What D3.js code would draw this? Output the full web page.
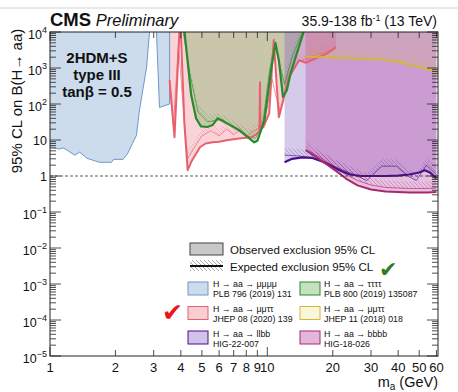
<!DOCTYPE html>
<html>
<head>
<meta charset="utf-8">
<script src="https://cdn.jsdelivr.net/npm/d3@7"></script>
<style>
    body { margin: 0; background: #fff; }
    text { font-family: "Liberation Sans", Arial, sans-serif; }
</style>
</head>
<body>
<div id="chart"></div>
<script>
// H -> aa -> mumumumu (PLB 796 (2019) 131), two pieces around the J/psi gap
var mmmmMassA = [1, 1.03, 1.1, 1.15, 1.2, 1.3, 1.37, 1.48, 1.69, 1.92, 1.96, 2.17, 2.28, 2.4, 2.5, 2.58, 2.78, 2.87];
var mmmmObsA = [6.5, 6.3, 5.6, 6.0, 5.2, 3.8, 4.6, 3.1, 2.4, 2.4, 2.9, 2.9, 4.3, 8.1, 13.6, 68, 1000, 10000];
var mmmmMassB = [3.09, 3.19, 3.55, 3.55];
var mmmmObsB = [10000, 80, 100, 10000];

// H -> aa -> mumutautau (JHEP 08 (2020) 139)
var mmttMass = [3.55, 3.74, 3.94, 4.0, 4.15, 4.3, 4.5, 4.9, 5.2, 5.6, 6.0, 6.5, 7.0, 7.4, 8.0, 8.5, 9.0, 9.2, 9.25, 9.3, 9.6, 10.2, 10.7, 11.3, 12.6, 14, 15, 17.3, 19, 20.7];
var mmttObs = [460, 12, 10000, 10000, 30, 1.45, 2.7, 6.3, 8, 8.7, 9, 9.8, 10.5, 11, 11.5, 12, 15, 18, 400, 20, 23, 55, 6000, 43, 560, 1650, 1400, 2000, 2600, 3800];
var mmttExpMass = [3.55, 3.7, 3.9, 4.05, 4.3, 4.6, 5.0, 5.5, 6.0, 6.5, 7.0, 7.5, 8.0, 8.5, 9.0, 9.5, 10.0, 10.5, 11.0, 11.5, 12.5, 14, 16, 18, 20.7];
var mmttExp = [300, 25, 5000, 200, 3, 6, 13, 18, 13, 20, 14, 19, 12, 17, 20, 30, 80, 500, 150, 60, 700, 1500, 2100, 2600, 3500];

// H -> aa -> tautautautau (PLB 800 (2019) 135087)
var ttttMass = [4.16, 4.46, 4.7, 4.95, 5.3, 5.6, 5.9, 6.3, 7.4, 8.7, 9.0, 9.7, 10.4, 10.9, 11.3, 11.8, 12.3, 12.8, 13.5, 14.7];
var ttttObs = [10000, 180, 40, 24, 23, 26, 40, 33, 19, 8.6, 9.5, 35, 870, 5000, 1650, 157, 240, 710, 2000, 10000];
var ttttExpMass = [4.1, 4.4, 4.8, 5.3, 6.0, 7.0, 8.0, 8.8, 9.5, 10.2, 10.8, 11.4, 12.0, 13.0, 14.5];
var ttttExp = [10000, 700, 60, 32, 36, 22, 13, 11, 25, 700, 5000, 1200, 350, 2000, 10000];

// H -> aa -> mumutautau (JHEP 11 (2018) 018)
var mmtt18Mass = [15, 16, 17, 18, 20, 22, 24, 26, 28, 30, 33, 36, 40, 44, 48, 52, 56, 61];
var mmtt18Obs = [2000, 2100, 2000, 2050, 1900, 1950, 1850, 1850, 1800, 1750, 1700, 1600, 1450, 1250, 1100, 1000, 850, 700];
var mmtt18Exp = [2200, 2000, 2300, 2000, 2100, 1800, 2000, 1700, 1900, 1650, 1800, 1500, 1550, 1300, 1150, 1050, 900, 720];

// H -> aa -> llbb (HIG-22-007)
var llbbMass = [12, 13, 14.5, 16, 18, 20, 22, 24, 27, 30, 35, 40, 45, 50, 53, 56, 60];
var llbbObs = [2.4, 3.0, 3.3, 3.2, 2.5, 1.8, 1.35, 1.1, 1.0, 1.0, 1.0, 1.02, 1.1, 1.25, 1.45, 1.25, 0.86];
var llbbExpMass = [12, 14, 17, 21.3, 25, 28.7, 33.6, 39.3, 44.5, 48.5, 53.9, 60];
var llbbExp = [3.8, 3.6, 3.0, 1.64, 1.1, 0.75, 1.87, 1.87, 0.98, 0.75, 1.99, 1.1];

// H -> aa -> bbbb (HIG-18-026)
var bbbbMass = [15, 17, 19, 21, 23, 26, 30, 35, 45, 55, 60];
var bbbbObs = [5.2, 3.2, 2.0, 1.3, 0.85, 0.55, 0.42, 0.37, 0.35, 0.35, 0.36];
var bbbbExp = [5.6, 3.6, 2.4, 1.6, 1.1, 0.75, 0.56, 0.48, 0.45, 0.45, 0.46];

// axis ticks
var xTickValues = [1, 2, 3, 4, 5, 6, 7, 8, 9, 10, 20, 30, 40, 50, 60];
var yExponents = [-5, -4, -3, -2, -1, 0, 1, 2, 3, 4];

// legend text
var legendTop = ["Observed exclusion 95% CL", "Expected exclusion 95% CL"];
var legendDecay = ["H \u2192 aa \u2192 \u03bc\u03bc\u03bc\u03bc", "H \u2192 aa \u2192 \u03c4\u03c4\u03c4\u03c4",
    "H \u2192 aa \u2192 \u03bc\u03bc\u03c4\u03c4", "H \u2192 aa \u2192 \u03bc\u03bc\u03c4\u03c4",
    "H \u2192 aa \u2192 llbb", "H \u2192 aa \u2192 bbbb"];
var legendRef = ["PLB 796 (2019) 131", "PLB 800 (2019) 135087", "JHEP 08 (2020) 139",
    "JHEP 11 (2018) 018", "HIG-22-007", "HIG-18-026"];

function zip(ms, vs) {
    return ms.map(function (m, i) { return {m: m, v: vs[i]}; });
}

function drawLimits(divName) {

    var W = 458, H = 392;
    var left = 50, right = 438, top = 32, bottom = 356;

    var x = d3.scaleLog().domain([1, 61]).range([left, right]);
    var y = d3.scaleLog().domain([1e-5, 1e4]).range([bottom, top]).clamp(true);

    var svg = d3.select('#' + divName)
        .append('svg')
        .attr('width', W)
        .attr('height', H);

    var defs = svg.append('defs');
    defs.append('clipPath').attr('id', 'plotclip')
        .append('rect')
        .attr('x', left).attr('y', top)
        .attr('width', right - left).attr('height', bottom - top);

    function hatch(id, color, op) {
        var p = defs.append('pattern')
            .attr('id', id)
            .attr('patternUnits', 'userSpaceOnUse')
            .attr('width', 4).attr('height', 4);
        p.append('path')
            .attr('d', 'M-1,-1 L5,5 M3,-1 L5,1 M-1,3 L1,5')
            .attr('stroke', color)
            .attr('stroke-width', 0.6)
            .attr('stroke-opacity', op);
    }

    var analyses = [
        {obs: zip(mmmmMassA, mmmmObsA), exp: null, fill: '#cddcec', op: 1, line: '#6f98c8', lw: 1, hatch: null},
        {obs: zip(mmmmMassB, mmmmObsB), exp: null, fill: '#cddcec', op: 1, line: '#6f98c8', lw: 1, hatch: null},
        {obs: zip(mmttMass, mmttObs), exp: zip(mmttExpMass, mmttExp), fill: '#f06e82', op: 0.3, line: '#e8606e', lw: 2, hatch: '#e8606e'},
        {obs: zip(ttttMass, ttttObs), exp: zip(ttttExpMass, ttttExp), fill: '#5aaa46', op: 0.3, line: '#2a8a2e', lw: 2.2, hatch: '#3a9a3a'},
        {obs: zip(llbbMass, llbbObs), exp: zip(llbbExpMass, llbbExp), fill: '#7850be', op: 0.3, line: '#4b0f8c', lw: 2.2, hatch: '#5a2a9a'},
        {obs: zip(bbbbMass, bbbbObs), exp: zip(bbbbMass, bbbbExp), fill: '#b43ca0', op: 0.32, line: '#a8286e', lw: 2, hatch: '#a8286e'},
        {obs: zip(mmtt18Mass, mmtt18Obs), exp: zip(mmtt18Mass, mmtt18Exp), fill: '#e6d250', op: 0.15, line: '#d4b830', lw: 1.5, hatch: '#d4b830'}
    ];

    analyses.forEach(function (a, i) {
        if (a.hatch) hatch('h' + i, a.hatch, 0.5);
    });
    hatch('hgray', '#444', 0.8);

    var plot = svg.append('g').attr('clip-path', 'url(#plotclip)');

    var fillArea = d3.area()
        .x(function (d) { return x(d.m); })
        .y0(y(1e4))
        .y1(function (d) { return y(d.v); });

    var hatchArea = d3.area()
        .x(function (d) { return x(d.m); })
        .y0(function (d) { return y(d.v); })
        .y1(function (d) { return y(d.v) - 7; });

    var line = d3.line()
        .x(function (d) { return x(d.m); })
        .y(function (d) { return y(d.v); });

    // observed excluded regions
    analyses.forEach(function (a) {
        plot.append('path')
            .datum(a.obs)
            .attr('d', fillArea)
            .attr('fill', a.fill)
            .attr('fill-opacity', a.op);
    });

    // expected: hatch + thin line
    analyses.forEach(function (a, i) {
        if (!a.exp) return;
        plot.append('path')
            .datum(a.exp)
            .attr('d', hatchArea)
            .attr('fill', 'url(#h' + i + ')');
        plot.append('path')
            .datum(a.exp)
            .attr('d', line)
            .attr('fill', 'none')
            .attr('stroke', a.line)
            .attr('stroke-width', 0.8)
            .attr('stroke-opacity', 0.8);
    });

    // observed lines
    analyses.forEach(function (a) {
        plot.append('path')
            .datum(a.obs)
            .attr('d', line)
            .attr('fill', 'none')
            .attr('stroke', a.line)
            .attr('stroke-width', a.lw)
            .attr('stroke-linejoin', 'round');
    });

    // B = 1 reference
    svg.append('line')
        .attr('x1', left).attr('x2', right)
        .attr('y1', y(1)).attr('y2', y(1))
        .attr('stroke', '#333')
        .attr('stroke-width', 0.8)
        .attr('stroke-dasharray', '3,2');

    // frame
    svg.append('rect')
        .attr('x', left).attr('y', top)
        .attr('width', right - left).attr('height', bottom - top)
        .attr('fill', 'none')
        .attr('stroke', '#222')
        .attr('stroke-width', 1);

    var ticks = svg.append('g').attr('stroke', '#222').attr('stroke-width', 0.8);

    // y ticks
    yExponents.forEach(function (k) {
        var v = Math.pow(10, k);
        ticks.append('line').attr('x1', left).attr('x2', left + 11).attr('y1', y(v)).attr('y2', y(v));
        ticks.append('line').attr('x1', right).attr('x2', right - 11).attr('y1', y(v)).attr('y2', y(v));
        if (k < 4) {
            d3.range(2, 10).forEach(function (j) {
                var yy = y(j * v);
                ticks.append('line').attr('x1', left).attr('x2', left + 6).attr('y1', yy).attr('y2', yy);
                ticks.append('line').attr('x1', right).attr('x2', right - 6).attr('y1', yy).attr('y2', yy);
            });
        }
        var t = svg.append('text')
            .attr('x', 47)
            .attr('text-anchor', 'end')
            .attr('font-size', 12.5)
            .attr('fill', '#111');
        if (k === 0) {
            t.attr('y', y(v) + 4.5).text('1');
        } else if (k === 1) {
            t.attr('y', y(v) + 4.5).text('10');
        } else {
            t.attr('y', y(v) + 6.5);
            t.append('tspan').text('10');
            t.append('tspan').attr('dy', -5.5).attr('font-size', 9).text(k < 0 ? '\u2212' + (-k) : k);
        }
    });

    // x ticks
    xTickValues.forEach(function (v) {
        var len = (v === 1 || v === 10) ? 9 : 6;
        ticks.append('line').attr('x1', x(v)).attr('x2', x(v)).attr('y1', bottom).attr('y2', bottom - len);
        ticks.append('line').attr('x1', x(v)).attr('x2', x(v)).attr('y1', top).attr('y2', top + len);
        svg.append('text')
            .attr('x', x(v))
            .attr('y', 372)
            .attr('text-anchor', 'middle')
            .attr('font-size', 13)
            .attr('fill', '#111')
            .text(v);
    });

    // axis titles
    svg.append('text')
        .attr('transform', 'translate(22,101) rotate(-90)')
        .attr('text-anchor', 'middle')
        .attr('font-size', 15)
        .attr('fill', '#111')
        .text('95% CL on B(H\u2192 aa)');

    var xt = svg.append('text')
        .attr('x', right)
        .attr('y', 387)
        .attr('text-anchor', 'end')
        .attr('font-size', 14.5)
        .attr('fill', '#111');
    xt.append('tspan').text('m');
    xt.append('tspan').attr('dy', 2.5).attr('font-size', 10).text('a');
    xt.append('tspan').attr('dy', -2.5).text(' (GeV)');

    // header
    svg.append('line')
        .attr('x1', 0).attr('x2', W).attr('y1', 8).attr('y2', 8)
        .attr('stroke', '#d4d4d4');

    var cms = svg.append('text').attr('x', 50).attr('y', 26).attr('fill', '#111');
    cms.append('tspan').attr('font-weight', 'bold').attr('font-size', 18.5).text('CMS');
    cms.append('tspan').attr('font-style', 'italic').attr('font-size', 16.5).text(' Preliminary');

    var lumi = svg.append('text')
        .attr('x', 437).attr('y', 26)
        .attr('text-anchor', 'end')
        .attr('font-size', 14)
        .attr('fill', '#111');
    lumi.append('tspan').text('35.9-138 fb');
    lumi.append('tspan').attr('dy', -5).attr('font-size', 9).text('-1');
    lumi.append('tspan').attr('dy', 5).text(' (13 TeV)');

    // model label
    var model = ['2HDM+S', 'type III', 'tan\u03b2 = 0.5'];
    model.forEach(function (s, i) {
        svg.append('text')
            .attr('x', 97)
            .attr('y', 63 + i * 17)
            .attr('text-anchor', 'middle')
            .attr('font-size', 15)
            .attr('font-weight', 'bold')
            .attr('fill', '#111')
            .text(s);
    });

    // legend
    var leg = svg.append('g');
    leg.append('rect')
        .attr('x', 190).attr('y', 243).attr('width', 33).attr('height', 12)
        .attr('fill', '#c8c8c8').attr('stroke', '#444').attr('stroke-width', 1);
    leg.append('rect')
        .attr('x', 190).attr('y', 260).attr('width', 33).attr('height', 11)
        .attr('fill', 'url(#hgray)');
    leg.append('line')
        .attr('x1', 190).attr('x2', 223).attr('y1', 266).attr('y2', 266)
        .attr('stroke', '#111').attr('stroke-width', 2.2);
    legendTop.forEach(function (s, i) {
        leg.append('text')
            .attr('x', 230).attr('y', 254 + i * 17)
            .attr('font-size', 11.5)
            .attr('fill', '#111')
            .text(s);
    });

    var legOrder = [0, 3, 2, 6, 4, 5];
    legendDecay.forEach(function (s, i) {
        var a = analyses[legOrder[i]];
        var col = i % 2, row = Math.floor(i / 2);
        var bx = col === 0 ? 188 : 300;
        var tx = col === 0 ? 213 : 324;
        leg.append('rect')
            .attr('x', bx).attr('y', 282 + row * 24.5)
            .attr('width', 20).attr('height', 13)
            .attr('fill', a.fill).attr('fill-opacity', a.op === 1 ? 1 : Math.min(1, a.op + 0.05))
            .attr('stroke', a.line).attr('stroke-width', 1);
        leg.append('text')
            .attr('x', tx).attr('y', 287 + row * 25)
            .attr('font-size', 8.8).attr('fill', '#111')
            .text(s);
        leg.append('text')
            .attr('x', tx).attr('y', 297 + row * 25)
            .attr('font-size', 8.8).attr('fill', '#111')
            .text(legendRef[i]);
    });

    // check marks
    svg.append('text')
        .attr('x', 162).attr('y', 321)
        .attr('font-family', 'DejaVu Sans')
        .attr('font-size', 25)
        .attr('fill', '#e8141e')
        .text('\u2714');
    svg.append('text')
        .attr('x', 379).attr('y', 277)
        .attr('font-family', 'DejaVu Sans')
        .attr('font-size', 22)
        .attr('fill', '#2e7d1e')
        .text('\u2714');
}

drawLimits("chart");
</script>
</body>
</html>
